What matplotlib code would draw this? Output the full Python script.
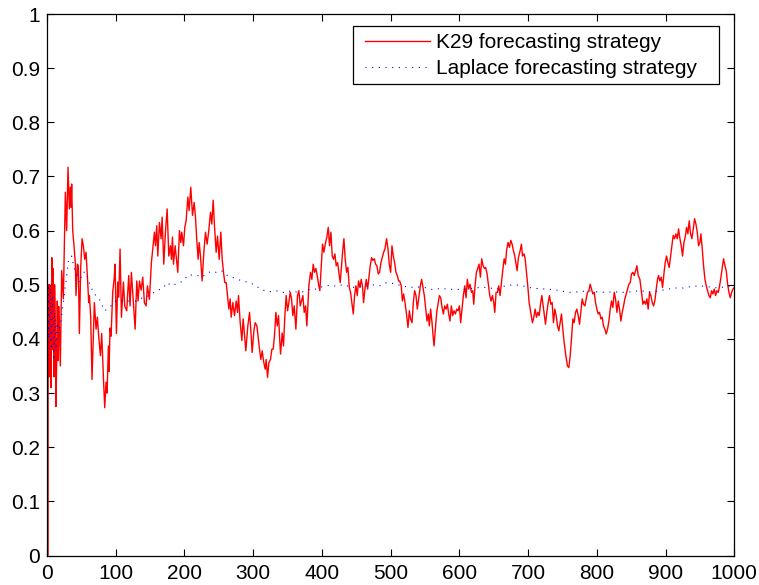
import matplotlib
matplotlib.use("Agg")
import matplotlib.pyplot as plt
from matplotlib.patches import Rectangle

plt.rcParams['font.family'] = ['Liberation Sans', 'DejaVu Sans']

# K29 forecasting strategy
k29_x = [0, 1, 2, 3, 4, 5, 6, 7, 8, 9, 10, 11, 12, 13, 14, 15, 16, 17, 18, 19.4, 21.4, 23.8,
         26.7, 28.6, 30.6, 32.5, 34, 35, 35.9, 37.4, 39.3, 41.3, 42.2, 44.2, 45.6, 47.1, 49, 51,
         52.9, 54.9, 56.8, 58.7, 60.7, 61.7, 63.6, 65.5, 67.5, 68.9, 71.4, 73.3, 75.2, 77.7,
         79.6, 82.5, 84, 85.9, 87.4, 89.3, 90.3, 91.7, 93.2, 95.6, 97.6, 99, 101, 102.9, 104.4,
         106.3, 108.3, 111.2, 113.1, 116, 118.9, 120.9, 122.8, 125.7, 128.2, 130.6, 132.5,
         134.5, 136.9, 139.3, 141.7, 144.2, 146.1, 149, 151.9, 153.9, 156.3, 157.8, 159.7,
         161.2, 163.6, 166, 167.5, 169.9, 172.3, 174.8, 177.2, 179.6, 181.1, 182.5, 184,
         186.4, 187.9, 190.3, 192.7, 194.7, 196.1, 198.6, 200.5, 202.4, 204.9, 206.8, 209.2,
         211.7, 214.1, 216, 218, 219.9, 221.4, 223.3, 225.7, 228.2, 230.6, 233, 235.4, 237.9,
         239.8, 241.8, 243.7, 246.1, 248.1, 250.5, 252.9, 254.9, 256.8, 258.7, 260.7, 262.1,
         264.6, 266.5, 268, 270.4, 272.8, 275.3, 277.2, 278.6, 281.1, 283.5, 285.4, 287.9,
         289.3, 292.2, 294.7, 296.6, 298.5, 301, 302.9, 305.4, 307.3, 309.2, 311.2, 313.1,
         315.5, 317.5, 318.9, 320.9, 322.8, 325.2, 327.2, 329.1, 331.1, 333, 335, 336.9,
         338.3, 339.8, 342.2, 344.1, 346.1, 348, 350, 351.9, 353.8, 355.8, 357.7, 359.7,
         362.1, 364.5, 366.5, 368.4, 370.3, 372.3, 374.2, 376.2, 378.1, 381, 383.4, 385.4,
         387.3, 389.3, 391.2, 393.2, 395.1, 397, 399, 400.9, 402.9, 404.8, 407.2, 409.2,
         411.1, 413.1, 415, 416.9, 418.9, 420.8, 422.8, 424.7, 426.6, 428.6, 430.5, 432,
         433.9, 435.9, 437.8, 439.8, 441.7, 443.6, 445.6, 447.5, 449.5, 451.4, 453.3, 455.3,
         457.2, 459.2, 460.6, 462.6, 464.5, 466.5, 468.4, 470.3, 472.3, 474.2, 476.2, 478.1,
         480, 482, 483.9, 485.9, 487.8, 489.8, 491.7, 494.1, 496.1, 498, 500, 501.9, 503.8,
         505.8, 507.7, 509.7, 511.6, 513.1, 515.5, 517, 518.9, 520.9, 522.8, 525.2, 527.2,
         529.1, 531.1, 533, 534.9, 536.9, 538.8, 540.8, 543.2, 545.1, 547.1, 549, 551, 552.9,
         554.8, 556.3, 558.2, 560.2, 561.6, 563.1, 565, 567, 568.9, 570.9, 572.8, 574.8,
         576.7, 578.6, 580.6, 582.5, 584.5, 586.4, 588.3, 590.3, 592.2, 594.2, 596.1, 598.1,
         600, 601.9, 603.9, 605.8, 607.8, 609.7, 611.6, 613.6, 615.5, 617.5, 619.4, 620.9,
         622.8, 624.8, 626.7, 628.6, 630.6, 632.5, 634.5, 636.4, 638.3, 640.3, 642.2, 644.2,
         646.1, 648.1, 650, 651.5, 653.4, 655.3, 657.3, 659.2, 661.2, 663.1, 665.1, 667,
         668.9, 670.9, 672.8, 674.8, 676.7, 678.6, 680.6, 682.5, 684, 685.9, 687.9, 690.3,
         691.8, 694.2, 695.7, 697.6, 699.5, 701.5, 703.9, 706.3, 708.3, 710.2, 712.2, 714.1,
         716.1, 718, 720, 721.9, 723.8, 725.3, 727.2, 729.2, 731.1, 733, 735, 736.9, 738.9,
         740.8, 742.8, 744.7, 746.6, 748.6, 750.5, 752.5, 754.9, 757.3, 759.3, 761.2, 763.1,
         765.1, 767, 769, 770.9, 772.9, 774.8, 776.7, 778.7, 780.6, 782.6, 784.5, 786.4,
         788.4, 790.3, 792.3, 794.2, 796.2, 798.1, 800, 802, 803.9, 805.9, 807.8, 809.7,
         811.7, 813.6, 815.6, 817.5, 819.5, 821.4, 823.3, 825.3, 827.2, 829.2, 831.1, 833,
         835, 836.9, 838.9, 840.8, 842.8, 844.7, 846.6, 848.6, 850.5, 852.5, 854.4, 856.3,
         858.3, 860.2, 862.6, 865, 867, 868.9, 870.9, 872.8, 874.7, 876.7, 878.6, 880.6,
         882.5, 884.4, 886.4, 888.3, 889.8, 891.7, 893.7, 895.6, 897.6, 899.5, 901.4, 903.4,
         905.3, 907.3, 909.2, 911.1, 913.1, 915, 917, 918.9, 920.9, 922.8, 924.7, 926.7,
         928.6, 930.6, 932.5, 934.4, 936.4, 938.3, 940.3, 942.2, 944.2, 946.1, 948, 950,
         951.4, 953.4, 955.3, 957.3, 959.2, 961.1, 963.1, 965, 967, 968.9, 970.9, 972.8,
         974.7, 976.7, 978.6, 980.6, 982.5, 984.4, 986.4, 988.3, 990.3, 992.2, 994.2, 996.1,
         998.1, 1000]
k29_y = [0.5, 0.0, 0.5, 0.33, 0.5, 0.42, 0.31, 0.55, 0.38, 0.53, 0.33, 0.5, 0.44, 0.275, 0.35,
         0.47, 0.36, 0.46, 0.418, 0.35, 0.526, 0.474,
         0.671, 0.60, 0.717, 0.64, 0.68, 0.643, 0.686, 0.60, 0.572, 0.538, 0.48, 0.538, 0.535,
         0.41, 0.53, 0.585, 0.572, 0.547, 0.56, 0.517, 0.467, 0.48, 0.44, 0.325, 0.405, 0.467,
         0.418, 0.44, 0.405, 0.369, 0.41, 0.316, 0.273, 0.32, 0.30, 0.387, 0.34, 0.42, 0.405,
         0.486, 0.51, 0.538, 0.41, 0.505, 0.477, 0.566, 0.44, 0.505, 0.461, 0.452, 0.517, 0.461,
         0.523, 0.467, 0.418, 0.507, 0.47, 0.507, 0.49, 0.514, 0.467, 0.461, 0.498, 0.473,
         0.541, 0.566, 0.597, 0.572, 0.609, 0.553, 0.615, 0.585, 0.625, 0.538, 0.597, 0.64,
         0.553, 0.572, 0.547, 0.588, 0.538, 0.572, 0.553, 0.523, 0.60, 0.578, 0.597, 0.572,
         0.606, 0.618, 0.662, 0.637, 0.68, 0.628, 0.652, 0.625, 0.582, 0.547, 0.578, 0.553,
         0.507, 0.56, 0.597, 0.575, 0.60, 0.634, 0.612, 0.656, 0.609, 0.56, 0.59, 0.547, 0.597,
         0.547, 0.523, 0.504, 0.504, 0.486, 0.455, 0.474, 0.44, 0.467, 0.443, 0.47, 0.449,
         0.48, 0.43, 0.397, 0.437, 0.40, 0.378, 0.424, 0.449, 0.415, 0.375, 0.415, 0.43, 0.424,
         0.403, 0.381, 0.362, 0.378, 0.356, 0.344, 0.362, 0.329, 0.356, 0.362, 0.381, 0.381,
         0.408, 0.449, 0.424, 0.443, 0.405, 0.372, 0.411, 0.387, 0.443, 0.48, 0.452, 0.467,
         0.486, 0.474, 0.443, 0.461, 0.418, 0.48, 0.489, 0.461, 0.47, 0.48, 0.449, 0.461,
         0.424, 0.498, 0.523, 0.51, 0.538, 0.523, 0.53, 0.517, 0.501, 0.489, 0.532, 0.575,
         0.56, 0.575, 0.588, 0.606, 0.572, 0.597, 0.553, 0.547, 0.557, 0.535, 0.541, 0.523,
         0.504, 0.535, 0.566, 0.585, 0.547, 0.523, 0.532, 0.495, 0.486, 0.467, 0.446, 0.48,
         0.498, 0.48, 0.507, 0.495, 0.51, 0.495, 0.467, 0.492, 0.51, 0.492, 0.514, 0.535,
         0.55, 0.545, 0.548, 0.538, 0.535, 0.52, 0.523, 0.541, 0.55, 0.56, 0.566, 0.585,
         0.566, 0.538, 0.523, 0.572, 0.553, 0.541, 0.523, 0.517, 0.507, 0.507, 0.498, 0.47,
         0.483, 0.467, 0.449, 0.421, 0.452, 0.436, 0.43, 0.467, 0.489, 0.48, 0.455, 0.474,
         0.498, 0.51, 0.495, 0.48, 0.455, 0.433, 0.446, 0.424, 0.455, 0.43, 0.408, 0.387,
         0.418, 0.449, 0.464, 0.48, 0.476, 0.458, 0.446, 0.461, 0.455, 0.464, 0.446, 0.433,
         0.461, 0.443, 0.452, 0.446, 0.455, 0.452, 0.461, 0.43, 0.455, 0.48, 0.498, 0.476,
         0.51, 0.492, 0.501, 0.486, 0.489, 0.464, 0.498, 0.523, 0.53, 0.538, 0.514, 0.548,
         0.535, 0.53, 0.532, 0.52, 0.501, 0.48, 0.47, 0.48, 0.467, 0.449, 0.486, 0.486, 0.498,
         0.48, 0.504, 0.526, 0.548, 0.538, 0.566, 0.578, 0.569, 0.582, 0.575, 0.563, 0.553,
         0.538, 0.526, 0.55, 0.56, 0.575, 0.553, 0.557, 0.548, 0.523, 0.498, 0.467, 0.449,
         0.43, 0.44, 0.455, 0.44, 0.449, 0.443, 0.464, 0.48, 0.461, 0.443, 0.427, 0.449,
         0.467, 0.48, 0.464, 0.467, 0.43, 0.455, 0.443, 0.424, 0.415, 0.43, 0.446, 0.418,
         0.393, 0.369, 0.35, 0.347, 0.369, 0.40, 0.437, 0.43, 0.449, 0.455, 0.443, 0.427,
         0.449, 0.474, 0.464, 0.461, 0.474, 0.486, 0.489, 0.501, 0.492, 0.483, 0.486, 0.467,
         0.455, 0.446, 0.449, 0.437, 0.44, 0.424, 0.418, 0.409, 0.418, 0.433, 0.455, 0.47,
         0.458, 0.486, 0.474, 0.449, 0.47, 0.455, 0.433, 0.449, 0.461, 0.474, 0.483, 0.492,
         0.501, 0.504, 0.52, 0.523, 0.517, 0.526, 0.535, 0.517, 0.51, 0.486, 0.464, 0.47,
         0.464, 0.474, 0.455, 0.486, 0.48, 0.467, 0.461, 0.47, 0.492, 0.51, 0.517, 0.507,
         0.514, 0.495, 0.52, 0.541, 0.553, 0.541, 0.532, 0.553, 0.572, 0.591, 0.585, 0.594,
         0.585, 0.603, 0.585, 0.572, 0.553, 0.578, 0.588, 0.606, 0.594, 0.618, 0.594, 0.585,
         0.603, 0.622, 0.612, 0.597, 0.572, 0.578, 0.594, 0.566, 0.535, 0.51, 0.498, 0.489,
         0.48, 0.476, 0.489, 0.483, 0.492, 0.48, 0.489, 0.486, 0.498, 0.514, 0.532, 0.548,
         0.535, 0.526, 0.501, 0.486, 0.476, 0.486, 0.492, 0.495]

# Laplace forecasting strategy
laplace_x = [0, 1, 2, 3, 4, 5, 6, 7, 8, 9, 10, 11, 12, 13, 14, 15, 17, 20, 23, 26, 28, 31.5,
             36, 39, 43, 47, 52, 57, 60.7, 66, 71, 76, 83.5, 88, 93, 100, 110, 120, 129, 139,
             149, 159, 168, 175, 181, 187, 193, 198.5, 205, 212, 219, 225, 231.6, 239, 246,
             254, 260.7, 269.4, 276.7, 285, 293.7, 302, 310.7, 319, 327.7, 336.4, 346, 355.3,
             365, 373, 383, 392.7, 401.4, 411.6, 421.8, 432, 441.7, 452.9, 463, 473.2, 484,
             494, 505, 516, 527.7, 538, 549.5, 560.7, 571.8, 583.5, 594.7, 606.3, 617.5,
             629.6, 640.8, 652.9, 664.6, 676.7, 689, 701, 713.6, 725.8, 737.9, 750, 762,
             774.3, 786.4, 799.5, 812, 824.3, 837, 849.5, 862, 875, 887, 900, 912.6, 925.7,
             938.3, 951, 963.6, 976.7, 988.8, 1000]
laplace_y = [0.5, 0.33, 0.5, 0.4, 0.45, 0.5, 0.38, 0.44, 0.48, 0.42, 0.36, 0.45, 0.42, 0.38,
             0.41, 0.43, 0.41, 0.43, 0.46, 0.49, 0.51, 0.547, 0.553, 0.532, 0.52, 0.504, 0.523,
             0.523, 0.506, 0.49, 0.48, 0.474, 0.452, 0.455, 0.461, 0.47, 0.47, 0.47, 0.47,
             0.476, 0.48, 0.489, 0.493, 0.504, 0.498, 0.501, 0.504, 0.507, 0.518, 0.518, 0.517,
             0.514, 0.52, 0.525, 0.523, 0.526, 0.518, 0.514, 0.51, 0.507, 0.504, 0.5, 0.492,
             0.488, 0.487, 0.489, 0.485, 0.489, 0.486, 0.487, 0.492, 0.492, 0.497, 0.499,
             0.497, 0.501, 0.495, 0.496, 0.497, 0.5, 0.498, 0.504, 0.502, 0.498, 0.495, 0.496,
             0.495, 0.491, 0.493, 0.492, 0.491, 0.492, 0.493, 0.495, 0.495, 0.492, 0.497, 0.5,
             0.499, 0.495, 0.493, 0.492, 0.491, 0.488, 0.486, 0.487, 0.489, 0.487, 0.486,
             0.487, 0.486, 0.487, 0.489, 0.487, 0.488, 0.491, 0.494, 0.494, 0.497, 0.498,
             0.496, 0.494, 0.497, 0.498]

x_ticks = [0, 100, 200, 300, 400, 500, 600, 700, 800, 900, 1000]
y_ticks = [0, 0.1, 0.2, 0.3, 0.4, 0.5, 0.6, 0.7, 0.8, 0.9, 1]
y_labels = ['0', '0.1', '0.2', '0.3', '0.4', '0.5', '0.6', '0.7', '0.8', '0.9', '1']
labels = ['K29 forecasting strategy', 'Laplace forecasting strategy']

W, H = 759, 585
fig = plt.figure(figsize=(W / 100, H / 100), dpi=100)
ax = fig.add_axes([47 / W, 1 - 555.5 / H, (734.3 - 47) / W, (555.5 - 14) / H])

ax.plot(k29_x, k29_y, color='#ff0000', lw=1.0, label=labels[0])
ax.plot(laplace_x, laplace_y, color='#0000ff', lw=0.8, linestyle=(0, (1, 5)), label=labels[1])

ax.set_xlim(0, 1000)
ax.set_ylim(0, 1)
ax.set_xticks(x_ticks)
ax.set_xticklabels([str(t) for t in x_ticks])
ax.set_yticks(y_ticks)
ax.set_yticklabels(y_labels)
ax.tick_params(direction='in', length=5, width=0.8, labelsize=15, top=True, right=True,
               colors='black')
ax.tick_params(axis='x', pad=6)
ax.tick_params(axis='y', pad=5)
for s in ax.spines.values():
    s.set_linewidth(0.9)

# legend frame (MATLAB style, extra room on the right)
frame = Rectangle((352.7 / W, 1 - 84 / H), (719.3 - 352.7) / W, (84 - 25.7) / H,
                  transform=fig.transFigure, facecolor='white', edgecolor='black',
                  lw=0.9, zorder=4.9, clip_on=False)
ax.add_patch(frame)

leg = ax.legend(loc='upper left', bbox_to_anchor=(365 / W, 1 - 33 / H),
                bbox_transform=fig.transFigure, borderaxespad=0, borderpad=0,
                fontsize=15, frameon=False, handlelength=3.1,
                handletextpad=0.32, labelspacing=0.33)
leg.set_zorder(5)

fig.savefig('out.png', dpi=100)
